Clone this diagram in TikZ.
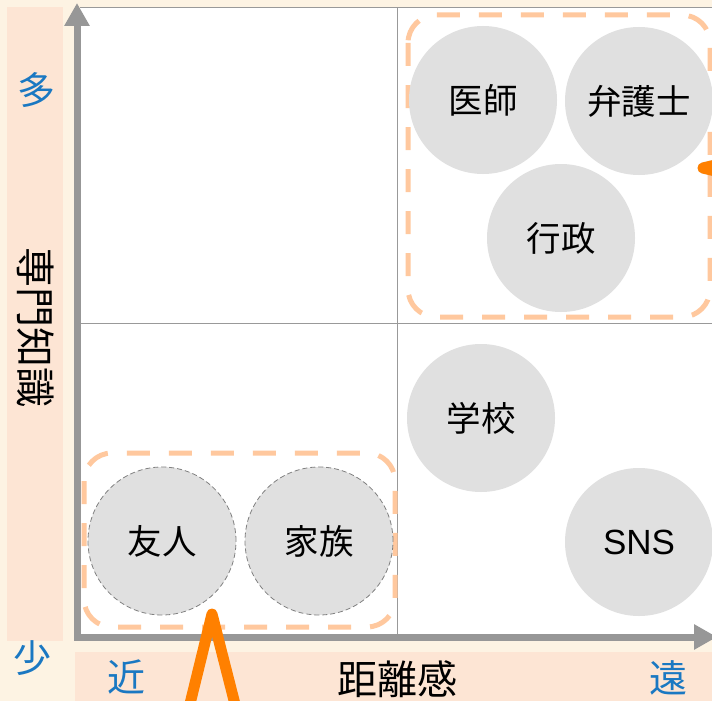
\documentclass[tikz,border=0pt]{standalone}
\usepackage{fontspec}
\setmainfont{Liberation Sans}
\newfontfamily\jpfont{Noto Sans CJK JP}
\usetikzlibrary{arrows.meta,positioning}
\definecolor{cream}{HTML}{FDF3E3}
\definecolor{peach}{HTML}{FDE5D4}
\definecolor{dashpeach}{HTML}{FFC89E}
\definecolor{axisgray}{HTML}{979797}
\definecolor{bubble}{HTML}{E0E0E0}
\definecolor{labelblue}{HTML}{1A78C2}
\definecolor{callout}{HTML}{FF8000}

\begin{document}
\begin{tikzpicture}[
    x=1pt, y=-1pt,
    field/.style={
		circle,
		fill=bubble,
		inner sep=0pt,
		minimum size=148pt,
		text centered,
		font=\jpfont\fontsize{34.5}{37}\selectfont
	},
	kinfield/.style={
		field,
		draw=gray,
		line width=0.8pt,
		dash pattern=on 5pt off 3pt
	},
	group/.style={
		draw=dashpeach,
		line width=5pt,
		dash pattern=on 23pt off 19pt,
		rounded corners=28pt
	},
	axis/.style={
		draw=axisgray,
		line width=7pt,
		{Triangle[width=24pt,length=23pt]}-{Triangle[width=24pt,length=23pt]}
	},
	endlabel/.style={
		text=labelblue,
		font=\jpfont\fontsize{38}{40}\selectfont
	},
	axislabel/.style={
		font=\jpfont\fontsize{40}{42}\selectfont
	},
	gridline/.style={
		draw=gray!80,
		line width=1pt
	},
	pointer/.style={
		draw=callout,
		line width=11pt,
		line join=round
	}
  ]

 \useasboundingbox (0,0) rectangle (712,701);

% // The background
 \fill [cream] (0,0) rectangle (712,701);
 \fill [peach] (7,7) rectangle (63,641);
 \fill [peach] (75,652) rectangle (712,701);
 \fill [white] (80,8) rectangle (712,634);
 \draw [gridline] (80,8) -- (712,8);
 \draw [gridline] (397,8) -- (397,634);
 \draw [gridline] (80,323) -- (712,323);

% // The groups
 \draw [group] (408,15) rectangle (710,317);
 \draw [group] (84,453) rectangle (395,627);

% // The fields
 \node [field] (doctor) at (483,100) {医師};
 \node [field] (lawyer) at (639,101) {弁護士};
 \node [field] (admin) at (561,238) {行政};
 \node [field] (school) at (481,418) {学校};
 \node [field] (sns) at (639,542) {\rmfamily\fontsize{35}{38}\selectfont SNS};
 \node [kinfield] (friend) at (162,541) {友人};
 \node [kinfield] (family) at (319,541) {家族};

% // The axes
 \coordinate (origin) at (77,637);
 \coordinate (ytip) at (77,3);
 \coordinate (xtip) at (717,637);
 \draw [axis] (ytip) -- (origin) -- (xtip);

 \node [endlabel] (many) at (36,90) {多};
 \node [endlabel] (few) at (32,658) {少};
 \node [endlabel] (near) at (126,677) {近};
 \node [endlabel] (far) at (668,678) {遠};
 \node [axislabel] (distance) at (397,679) {距離感};
 \node [axislabel, rotate=-90] (expertise) at (36,327) {専門知識};

% // The callouts
 \coordinate (tipbottom) at (212,614);
 \coordinate (legbottoma) at (187,716);
 \coordinate (legbottomb) at (238,716);
 \draw [pointer] (legbottoma) -- (tipbottom) -- (legbottomb);

 \coordinate (tipright) at (703,168);
 \coordinate (legrighta) at (745,158);
 \coordinate (legrightb) at (745,178);
 \draw [pointer, draw=black, opacity=0.15, shift={(-2,4)}] (legrighta) -- (tipright) -- (legrightb);
 \draw [pointer] (legrighta) -- (tipright) -- (legrightb);

\end{tikzpicture}
\end{document}
